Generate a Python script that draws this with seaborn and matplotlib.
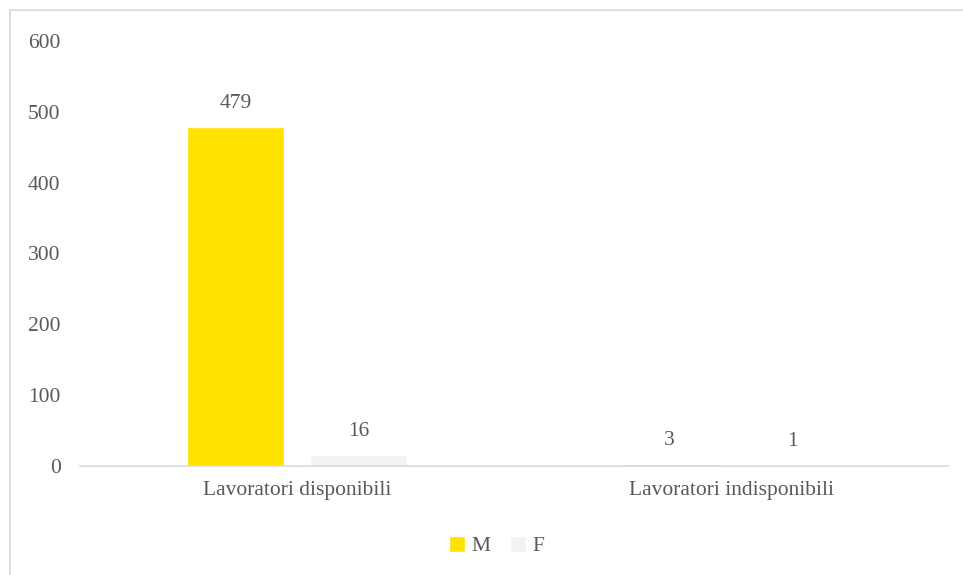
import matplotlib
matplotlib.use("Agg")
import matplotlib.pyplot as plt
import seaborn as sns
import pandas as pd
from matplotlib.patches import Rectangle

categories = ["Lavoratori disponibili", "Lavoratori indisponibili"]
series = ["M", "F"]
values_M = [479, 3]
values_F = [16, 1]
yticks = [0, 100, 200, 300, 400, 500, 600]

rows = []
for c, m, f in zip(categories, values_M, values_F):
    rows.append({"cat": c, "sex": "M", "val": m})
    rows.append({"cat": c, "sex": "F", "val": f})
df = pd.DataFrame(rows)

sns.set_theme(style="white")
plt.rcParams['font.family'] = ['Liberation Serif', 'DejaVu Serif']
txt = "#595959"
fs = 15.5

fig = plt.figure(figsize=(9.63, 5.75), dpi=100)
ax = fig.add_axes([80/963, 1-466/575, 868/963, (466-41)/575])

sns.barplot(data=df, x="cat", y="val", hue="sex", hue_order=series,
            palette={"M": "#FFE200", "F": "#F2F2F2"}, width=0.568, gap=0.21,
            saturation=1, ax=ax, legend=True, errorbar=None)

for cont in ax.containers:
    ax.bar_label(cont, padding=10, fontsize=fs, color=txt)

ax.set_xlim(-0.5, 1.5)
ax.set_ylim(0, 600)
ax.set_yticks(yticks)
ax.set_yticklabels([str(t) for t in yticks], fontsize=fs, color=txt)
ax.tick_params(axis='x', labelsize=fs, colors=txt, length=0, pad=11)
ax.tick_params(axis='y', length=0, pad=14)
ax.set_xlabel("")
ax.set_ylabel("")
for s in ["top", "right", "left"]:
    ax.spines[s].set_visible(False)
ax.spines["bottom"].set_color("#D9D9D9")
ax.spines["bottom"].set_linewidth(1.2)

leg = ax.get_legend()
leg.remove()
handles, labels = ax.get_legend_handles_labels()
fig.legend(handles, labels, loc="center", bbox_to_anchor=(497/963, 1-546/575),
           ncol=2, frameon=False, fontsize=fs, handlelength=0.75, handleheight=0.75,
           handletextpad=0.3, columnspacing=0.9, labelcolor=txt)

fig.patches.append(Rectangle((9.5/963, -0.1), 1.2, 1.1 - 10.5/575,
                             transform=fig.transFigure, fill=False,
                             edgecolor="#D9D9D9", linewidth=1.2))

fig.savefig("out.png", dpi=100)
